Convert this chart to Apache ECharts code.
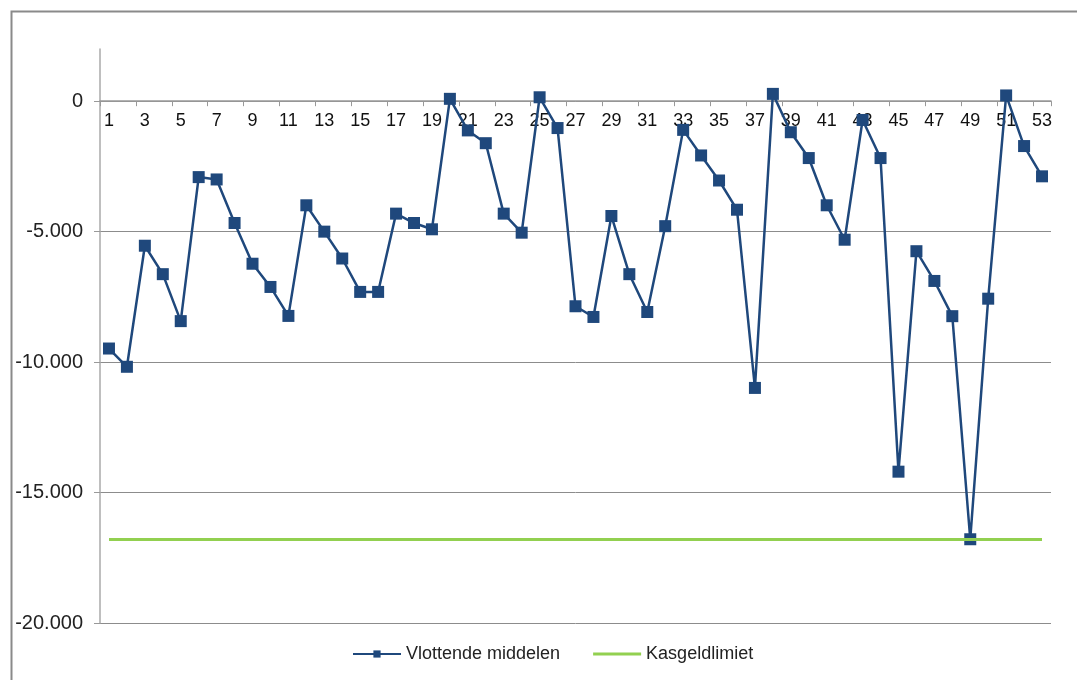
<!DOCTYPE html>
<html>
<head>
<meta charset="utf-8">
<script src="https://cdn.jsdelivr.net/npm/echarts@6/dist/echarts.min.js"></script>
<style>
html,body{margin:0;padding:0;background:#fff;}
#chart{width:1077px;height:680px;}
</style>
</head>
<body>
<div id="chart"></div>
<script>
const categories = ['1','2','3','4','5','6','7','8','9','10','11','12','13','14','15','16','17','18','19','20','21','22','23','24','25','26','27','28','29','30','31','32','33','34','35','36','37','38','39','40','41','42','43','44','45','46','47','48','49','50','51','52','53'];
const vlottendeMiddelen = [-9480,-10180,-5540,-6630,-8430,-2910,-3000,-4670,-6230,-7120,
  -8230,-3990,-5000,-6030,-7310,-7310,-4310,-4670,-4910,90,
  -1120,-1610,-4310,-5040,150,-1030,-7860,-8270,-4400,-6630,
  -8080,-4790,-1100,-2080,-3040,-4160,-10990,280,-1190,-2180,
  -3990,-5310,-720,-2180,-14200,-5750,-6890,-8240,-16790,-7570,
  220,-1720,-2880];
const kasgeldlimiet = [-16800,-16800,-16800,-16800,-16800,-16800,-16800,-16800,-16800,-16800,
  -16800,-16800,-16800,-16800,-16800,-16800,-16800,-16800,-16800,-16800,
  -16800,-16800,-16800,-16800,-16800,-16800,-16800,-16800,-16800,-16800,
  -16800,-16800,-16800,-16800,-16800,-16800,-16800,-16800,-16800,-16800,
  -16800,-16800,-16800,-16800,-16800,-16800,-16800,-16800,-16800,-16800,
  -16800,-16800,-16800];
const yTicks = [-20000,-15000,-10000,-5000,0];
const yMin = -20000, yMax = 2000;
const seriesNames = ['Vlottende middelen','Kasgeldlimiet'];

function fmt(v){
  const s = Math.abs(v).toString().replace(/\B(?=(\d{3})+(?!\d))/g,'.');
  return (v < 0 ? '-' : '') + s;
}

const W = 1077, H = 680;
const gridTop = 49, gridBottom = 57, gridLeft = 100, gridRight = 26;
const plotH = H - gridTop - gridBottom;
// place the category axis where the value axis is 0
const xOffset = -plotH * (0 - yMin) / (yMax - yMin);

const chart = echarts.init(document.getElementById('chart'));
chart.setOption({
  animation:false,
  backgroundColor:'#ffffff',
  textStyle:{fontFamily:'Liberation Sans, Arial, sans-serif'},
  graphic:[{
    type:'rect', left:9, top:9, silent:true,
    shape:{x:0,y:0,width:1200,height:800},
    style:{fill:'none',stroke:'#8a8a8a',lineWidth:2}
  }],
  grid:{left:gridLeft,right:gridRight,top:gridTop,bottom:gridBottom,containLabel:false},
  legend:{
    left:347, top:640,
    itemWidth:48, itemHeight:9, itemGap:33,
    symbolKeepAspect:true,
    textStyle:{fontSize:18,color:'#222',fontFamily:'Liberation Sans, Arial, sans-serif'},
    data:[
      {name:seriesNames[0]},
      {name:seriesNames[1],icon:'path://M0,0L48,0L48,3L0,3Z',itemStyle:{color:'#92d050'}}
    ]
  },
  xAxis:{
    type:'category',
    data:categories,
    boundaryGap:true,
    position:'bottom',
    offset:xOffset,
    axisLine:{onZero:false,lineStyle:{color:'#999',width:1.5}},
    axisTick:{show:true,length:5,lineStyle:{color:'#999'}},
    axisLabel:{interval:1,fontSize:18,color:'#111',margin:11},
    splitLine:{show:false}
  },
  yAxis:{
    type:'value',
    min:yMin, max:yMax, interval:5000,
    axisLine:{show:true,lineStyle:{color:'#aaa',width:1.5}},
    axisTick:{show:true,length:6,inside:false,customValues:yTicks,lineStyle:{color:'#999'}},
    axisLabel:{fontSize:20,color:'#222',margin:17,customValues:yTicks,formatter:fmt},
    splitLine:{show:true,lineStyle:{color:['#8c8c8c','#8c8c8c','#8c8c8c','#8c8c8c','#8c8c8c','rgba(0,0,0,0)'],width:1}}
  },
  series:[
    {
      name:seriesNames[0], type:'line', data:vlottendeMiddelen,
      symbol:'rect', symbolSize:12, showAllSymbol:true,
      lineStyle:{color:'#1f487c',width:2.5},
      itemStyle:{color:'#1f487c'},
      z:2
    },
    {
      name:seriesNames[1], type:'line', data:kasgeldlimiet,
      symbol:'none', showSymbol:false,
      lineStyle:{color:'#92d050',width:3},
      itemStyle:{color:'#92d050'},
      z:3
    }
  ]
});
</script>
</body>
</html>
